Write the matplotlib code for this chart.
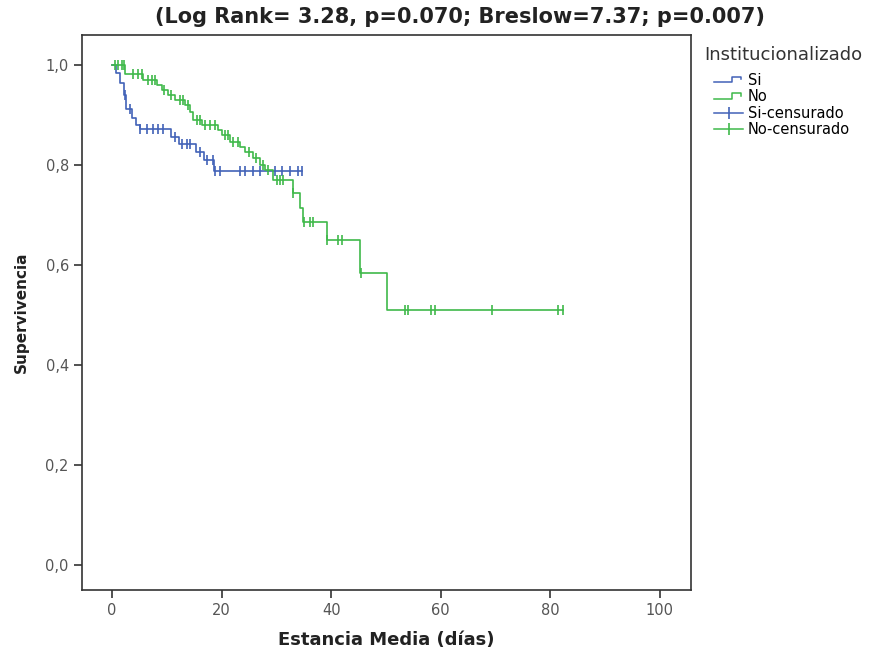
import numpy as np
import matplotlib
matplotlib.use("Agg")
import matplotlib.pyplot as plt
from matplotlib.legend_handler import HandlerBase
from matplotlib.lines import Line2D
from matplotlib.ticker import FuncFormatter

# Grupo "Si": tiempos de evento y supervivencia tras cada evento
si_event_t = [0.7, 1.5, 2.2, 2.6, 3.6, 4.4, 5.0, 10.8, 12.2, 15.3, 16.8, 18.6]
si_event_s = [0.985, 0.965, 0.94, 0.912, 0.895, 0.88, 0.872, 0.857, 0.843, 0.826, 0.81, 0.789]
si_cens_t = [2.4, 3.2, 5.1, 6.4, 7.5, 8.4, 9.3, 11.5, 12.8, 13.7, 14.2, 16.1, 17.3,
             18.4, 18.8, 19.7, 23.4, 24.3, 25.7, 27.0, 29.7, 31.0, 32.5, 34.0, 34.7]

# Grupo "No"
no_event_t = [2.4, 5.7, 8.2, 9.1, 10.2, 11.5, 13.3, 14.2, 14.8, 16.4, 19.3, 20.0, 21.5,
              23.4, 24.3, 25.7, 27.0, 28.0, 29.4, 33.0, 34.3, 34.9, 39.2, 45.3, 50.2]
no_event_s = [0.983, 0.97, 0.96, 0.95, 0.94, 0.93, 0.92, 0.906, 0.89, 0.88, 0.87, 0.86, 0.846,
              0.836, 0.826, 0.814, 0.80, 0.79, 0.77, 0.744, 0.714, 0.686, 0.65, 0.584, 0.51]
no_cens_t = [0.5, 1.1, 1.8, 2.2, 3.8, 4.7, 5.5, 6.6, 7.3, 7.8, 9.5, 10.8, 12.4, 13.0, 13.8,
             15.5, 16.1, 17.0, 17.9, 18.8, 20.6, 21.1, 22.1, 23.0, 25.0, 26.3, 27.6, 28.5,
             30.1, 30.7, 31.2, 33.1, 35.1, 36.1, 36.7, 39.3, 41.2, 42.0, 45.5, 53.5, 54.1,
             58.2, 58.9, 69.3, 81.4, 82.3]

y_ticks = [0.0, 0.2, 0.4, 0.6, 0.8, 1.0]
x_ticks = [0, 20, 40, 60, 80, 100]

blue = "#4262b8"
green = "#3fb94a"


def km_curve(ax, ev_t, ev_s, cens_t, color):
    t = np.r_[0.0, ev_t, cens_t[-1]]
    s = np.r_[1.0, ev_s, ev_s[-1]]
    ax.step(t, s, where="post", color=color, lw=1.2)
    idx = np.searchsorted(ev_t, cens_t, side="right")
    s_c = np.r_[1.0, ev_s][idx]
    ax.plot(cens_t, s_c, ls="none", marker="|", ms=7.5, mew=1.2, color=color)


class StepHandler(HandlerBase):
    def create_artists(self, legend, orig, xd, yd, w, h, fontsize, trans):
        x = np.array([0, 0.6, 0.6, 0.92, 0.92]) * w - xd
        y = np.array([0.25, 0.25, 0.8, 0.8, 0.55]) * h - yd
        ln = Line2D(x, y, color=orig.get_color(), lw=1.1, transform=trans)
        return [ln]


fig = plt.figure(figsize=(8.75, 6.53), dpi=100)
ax = fig.add_axes([82 / 875, 1 - 590 / 653, (691 - 82) / 875, (590 - 35) / 653])

km_curve(ax, si_event_t, si_event_s, si_cens_t, blue)
km_curve(ax, no_event_t, no_event_s, no_cens_t, green)

ax.set_xlim(-5.5, 105.7)
ax.set_ylim(-0.05, 1.06)
ax.set_xticks(x_ticks)
ax.set_yticks(y_ticks)
ax.yaxis.set_major_formatter(FuncFormatter(lambda v, p: f"{v:.1f}".replace(".", ",")))
ax.tick_params(direction="out", length=6, width=1.2, color="#333333",
               labelsize=10.5, labelcolor="#555555")
for sp in ax.spines.values():
    sp.set_color("#333333")
    sp.set_linewidth(1.2)

ax.set_xlabel("Estancia Media (días)", fontsize=13, fontweight="bold", color="#222222", labelpad=9)
ax.set_ylabel("Supervivencia", fontsize=11, fontweight="bold", color="#222222", labelpad=12)

fig.text(460 / 875, 1 - 17 / 653, "(Log Rank= 3.28, p=0.070; Breslow=7.37; p=0.007)",
         ha="center", va="center", fontsize=15, fontweight="bold", color="#222222")

# titulo de la leyenda aparte, para dejar el hueco que tiene el original
fig.text(704 / 875, 1 - 55 / 653, "Institucionalizado", ha="left", va="center",
         fontsize=13, color="#333333")

handles = [Line2D([], [], color=blue), Line2D([], [], color=green),
           Line2D([], [], color=blue, marker="|", ms=9, mew=1.2, lw=1.1),
           Line2D([], [], color=green, marker="|", ms=9, mew=1.2, lw=1.1)]
labels = ["Si", "No", "Si-censurado", "No-censurado"]
leg = fig.legend(handles, labels, loc="upper left", bbox_to_anchor=(714 / 875, 1 - 73 / 653),
                 frameon=False, fontsize=10.5, borderpad=0, borderaxespad=0,
                 handlelength=2.0, handletextpad=0.3, labelspacing=0.1,
                 handler_map={handles[0]: StepHandler(), handles[1]: StepHandler()})

fig.savefig("out.png", dpi=100)
